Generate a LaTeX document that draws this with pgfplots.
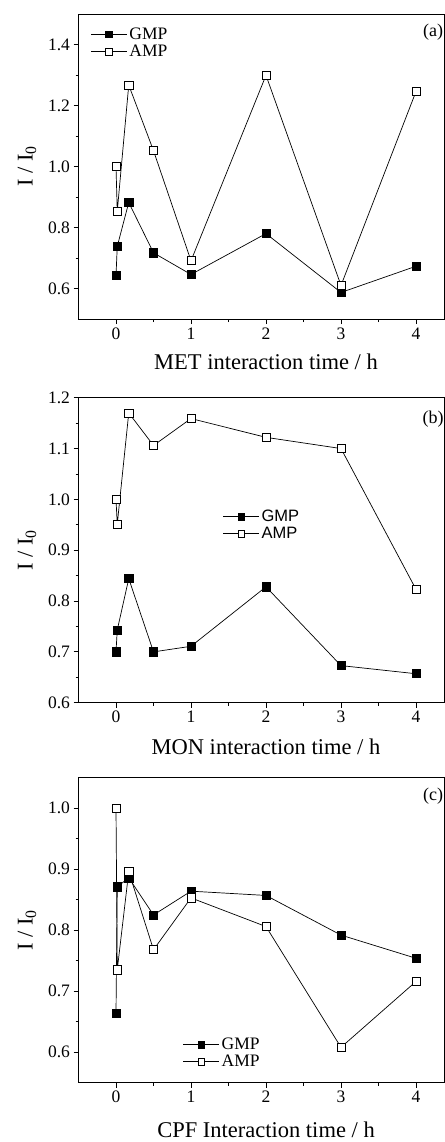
\documentclass[border=0pt]{standalone}
\usepackage{fontspec}
\setmainfont{Liberation Serif}
\newfontfamily\arialf{Liberation Sans}
\usepackage{pgfplots}
\pgfplotsset{compat=1.18}

\newcommand{\legfont}{\fontsize{17.5}{19}\selectfont}
\newcommand{\legfontb}{\arialf\fontsize{16.5}{19}\selectfont}

\pgfplotsset{
  panel/.style={
    scale only axis,
    width=366pt, height=305pt,
    xmin=-0.5, xmax=4.38,
    xtick={0,1,2,3,4},
    minor x tick num=1,
    xtick pos=bottom, ytick pos=left,
    tick align=outside,
    major tick length=5pt, minor tick length=3pt,
    axis line style={line width=0.9pt},
    every tick/.style={line width=0.8pt, black},
    /pgf/number format/assume math mode=true,
    ticklabel style={font=\fontsize{17.5}{20}\selectfont},
    yticklabel style={/pgf/number format/.cd, fixed, fixed zerofill, precision=1},
    ylabel={I / I\textsubscript{0}},
    ylabel style={font=\fontsize{22.5}{26}\selectfont, at={(axis description cs:-0.1407,0.5)}, anchor=center, rotate=0},
    xlabel style={font=\fontsize{22.5}{26}\selectfont, anchor=center},
    legend cell align=left,
    legend image code/.code={
      \draw[mark repeat=2,mark phase=2, mark size=3.4pt] plot coordinates {(0pt,0pt)(18pt,0pt)(36pt,0pt)};
    },
    legend style={draw=none, fill=none, inner sep=0pt, row sep=0pt,
      nodes={inner sep=2pt}},
  },
  gmp/.style={black, line width=0.7pt, mark=square*, mark size=4.1pt, mark options={solid, fill=black, line width=0.7pt}},
  amp/.style={black, line width=0.7pt, mark=square*, mark size=4.1pt, mark options={solid, fill=white, line width=0.7pt}},
}

\begin{document}
\begin{tikzpicture}
% ---------- (a) ----------
\begin{axis}[panel,
  at={(78.5pt,-319pt)}, anchor=south west,
  ymin=0.5, ymax=1.5,
  ytick={0.6,0.8,1.0,1.2,1.4}, minor y tick num=1,
  xlabel={MET interaction time / h},
  xlabel style={at={(axis description cs:0.5123,-0.141)}},
  legend style={at={(axis description cs:0.033,0.905)}, anchor=west, font=\legfont},
]
\addplot[gmp] coordinates {(0,0.642)(0.0167,0.738)(0.17,0.882)(0.5,0.717)(1,0.646)(2,0.780)(3,0.587)(4,0.673)};
\addlegendentry{\legfont GMP}
\addplot[amp] coordinates {(0,1.000)(0.0167,0.853)(0.17,1.267)(0.5,1.052)(1,0.691)(2,1.299)(3,0.610)(4,1.246)};
\addlegendentry{\legfont AMP}
\node[font=\fontsize{18}{20}\selectfont] at (axis description cs:0.9686,0.941) {(a)};
\end{axis}
% ---------- (b) ----------
\begin{axis}[panel,
  at={(78.5pt,-702.7pt)}, anchor=south west,
  ymin=0.6, ymax=1.2,
  ytick={0.6,0.7,0.8,0.9,1.0,1.1,1.2}, minor y tick num=1,
  xlabel={MON interaction time / h},
  xlabel style={at={(axis description cs:0.5123,-0.145)}},
  legend style={at={(axis description cs:0.394,0.582)}, anchor=west, font=\legfontb},
]
\addplot[gmp] coordinates {(0,0.700)(0.0167,0.743)(0.17,0.844)(0.5,0.700)(1,0.711)(2,0.828)(3,0.673)(4,0.657)};
\addlegendentry{\legfontb GMP}
\addplot[amp] coordinates {(0,1.000)(0.0167,0.951)(0.17,1.170)(0.5,1.106)(1,1.159)(2,1.122)(3,1.100)(4,0.823)};
\addlegendentry{\legfontb AMP}
\node[font=\fontsize{18}{20}\selectfont] at (axis description cs:0.9686,0.929) {(b)};
\end{axis}
% ---------- (c) ----------
\begin{axis}[panel,
  at={(78.5pt,-1082.7pt)}, anchor=south west,
  ymin=0.55, ymax=1.05,
  ytick={0.6,0.7,0.8,0.9,1.0}, minor y tick num=1,
  xlabel={CPF Interaction time / h},
  xlabel style={at={(axis description cs:0.5123,-0.155)}},
  legend style={at={(axis description cs:0.285,0.0966)}, anchor=west, font=\legfont},
]
\addplot[gmp] coordinates {(0,0.664)(0.0167,0.871)(0.17,0.886)(0.5,0.825)(1,0.864)(2,0.857)(3,0.792)(4,0.754)};
\addlegendentry{\legfont GMP}
\addplot[amp] coordinates {(0,1.000)(0.0167,0.735)(0.17,0.896)(0.5,0.768)(1,0.853)(2,0.806)(3,0.608)(4,0.716)};
\addlegendentry{\legfont AMP}
\node[font=\fontsize{18}{20}\selectfont] at (axis description cs:0.9686,0.939) {(c)};
\end{axis}
\pgfresetboundingbox
\path[use as bounding box] (0pt,0pt) rectangle (444pt,-1142pt);
\end{tikzpicture}
\end{document}
